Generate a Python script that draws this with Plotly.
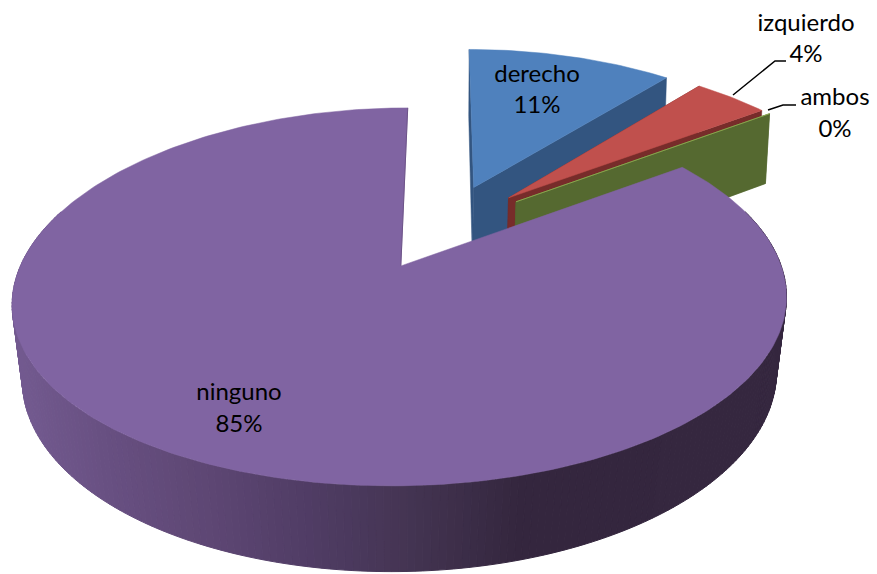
import numpy as np
import plotly.graph_objects as go

# Share of cases per side
categories = ["derecho", "izquierdo", "ambos", "ninguno"]
shares = [11, 4, 0, 85]
percent_labels = ["11%", "4%", "0%", "85%"]

# Slice colours: top face and shaded radial wall
top_colors = ["#4f81bd", "#c0504d", "#9bbb59", "#8064a2"]
wall_colors = ["#335580", "#772c2a", "#556930", "#6d5488"]

# Shading of the round purple wall, left to right across the page
wall_stops_x = [11, 100, 200, 300, 400, 520, 800]
wall_stops_rgb = [
    (115, 90, 144), (104, 80, 130), (94, 71, 116), (81, 61, 102),
    (69, 53, 84), (52, 38, 62), (53, 39, 63),
]

# Camera and pie proportions, in page pixels
X0, Y0 = 444.0, 226.4
SCALE_X, SCALE_Y = 367.0, 171.2
PERSPECTIVE = 0.158
KEYSTONE = 0.022
EXPLODE = 0.25
NADIR_X = 398.0

# Label anchors
LABEL_X = [537, 806, 835, 239]
NAME_Y = [75.5, 24.5, 98.5, 393.5]
PCT_Y = [106.5, 55.5, 130.5, 425.5]
LEADERS = [
    ([733, 775, 786], [95, 61, 61]),
    ([768, 783, 796], [110, 105, 105]),
]


def project(x, y):
    """Top-face point of the pie (unit radius) to page coordinates."""
    x, y = np.asarray(x, float), np.asarray(y, float)
    w = 1 + PERSPECTIVE * y
    sx = X0 + SCALE_X * x * (1 - KEYSTONE * (y + 0.22)) / w
    sy = Y0 - SCALE_Y * y / w
    return sx, sy


def drop(sx, sy):
    """Bottom-face point below a projected top-face point."""
    shrink = 0.002 + 0.00008 * sy
    return NADIR_X + (sx - NADIR_X) * (1 - shrink), sy + 65 + 0.0427 * sy


def polygon(xs, ys, color, line_color=None, width=0.5):
    return go.Scatter(
        x=list(xs), y=list(ys), mode="lines", fill="toself", fillcolor=color,
        line=dict(color=line_color or color, width=width), hoverinfo="skip",
        showlegend=False,
    )


def radial_wall(ax, ay, ox, oy, t, color):
    ex, ey = project(ox + np.sin(t), oy + np.cos(t))
    bax, bay = drop(ax, ay)
    bex, bey = drop(ex, ey)
    return polygon([ax, ex, bex, bax, ax], [ay, ey, bey, bay, ay], color)


def wall_color(sx):
    rgb = [np.interp(sx, wall_stops_x, [c[i] for c in wall_stops_rgb]) for i in range(3)]
    return "rgb(%d,%d,%d)" % tuple(int(round(v)) for v in rgb)


fig = go.Figure()
edges = np.cumsum([0] + shares) / sum(shares) * 2 * np.pi

for i, name in enumerate(categories):
    t0, t1 = edges[i], edges[i + 1]
    mid = (t0 + t1) / 2
    ox, oy = EXPLODE * np.sin(mid), EXPLODE * np.cos(mid)
    ax, ay = project(ox, oy)
    arc = np.linspace(t0, t1, max(2, int(np.degrees(t1 - t0)) + 2))
    ex, ey = project(ox + np.sin(arc), oy + np.cos(arc))

    if name != "ninguno":
        # Both radial walls sit behind the top face of the wedge
        fig.add_trace(radial_wall(ax, ay, ox, oy, t0, wall_colors[i]))
        fig.add_trace(radial_wall(ax, ay, ox, oy, t1, wall_colors[i]))
    else:
        # Round outer wall, split into narrow strips for the shading
        lo, hi = np.radians(72), np.radians(288)
        ticks = np.linspace(lo, hi, 217)
        for a, b in zip(ticks[:-1], ticks[1:]):
            tx, ty = project(ox + np.sin([a, b]), oy + np.cos([a, b]))
            bx, by = drop(tx, ty)
            fig.add_trace(polygon(
                [tx[0], tx[1], bx[1], bx[0], tx[0]],
                [ty[0], ty[1], by[1], by[0], ty[0]],
                wall_color((tx[0] + tx[1]) / 2), width=1,
            ))

    fig.add_trace(polygon(
        np.r_[ax, ex, ax], np.r_[ay, ey, ay], top_colors[i],
    ))

    if name == "ninguno":
        # Faint shaded rim on the closing edge of the large slice
        fig.add_trace(go.Scatter(
            x=[ax, ex[-1]], y=[ay, ey[-1]], mode="lines",
            line=dict(color=wall_colors[i], width=1),
            hoverinfo="skip", showlegend=False,
        ))

for lx, ly in LEADERS:
    fig.add_trace(go.Scatter(
        x=lx, y=ly, mode="lines", line=dict(color="#000000", width=1.5),
        hoverinfo="skip", showlegend=False,
    ))

for y_values, texts in ((NAME_Y, categories), (PCT_Y, percent_labels)):
    fig.add_trace(go.Scatter(
        x=LABEL_X, y=y_values, mode="text", text=texts,
        textposition="middle center",
        textfont=dict(family="Lato", size=24, color="#000000"),
        hoverinfo="skip", showlegend=False,
    ))

fig.update_layout(
    width=877, height=574, autosize=False,
    margin=dict(l=0, r=0, t=0, b=0),
    paper_bgcolor="#ffffff", plot_bgcolor="#ffffff",
    xaxis=dict(range=[0, 877], visible=False, fixedrange=True),
    yaxis=dict(range=[574, 0], visible=False, fixedrange=True),
)
fig.write_html("out.html", config={"displayModeBar": False})
